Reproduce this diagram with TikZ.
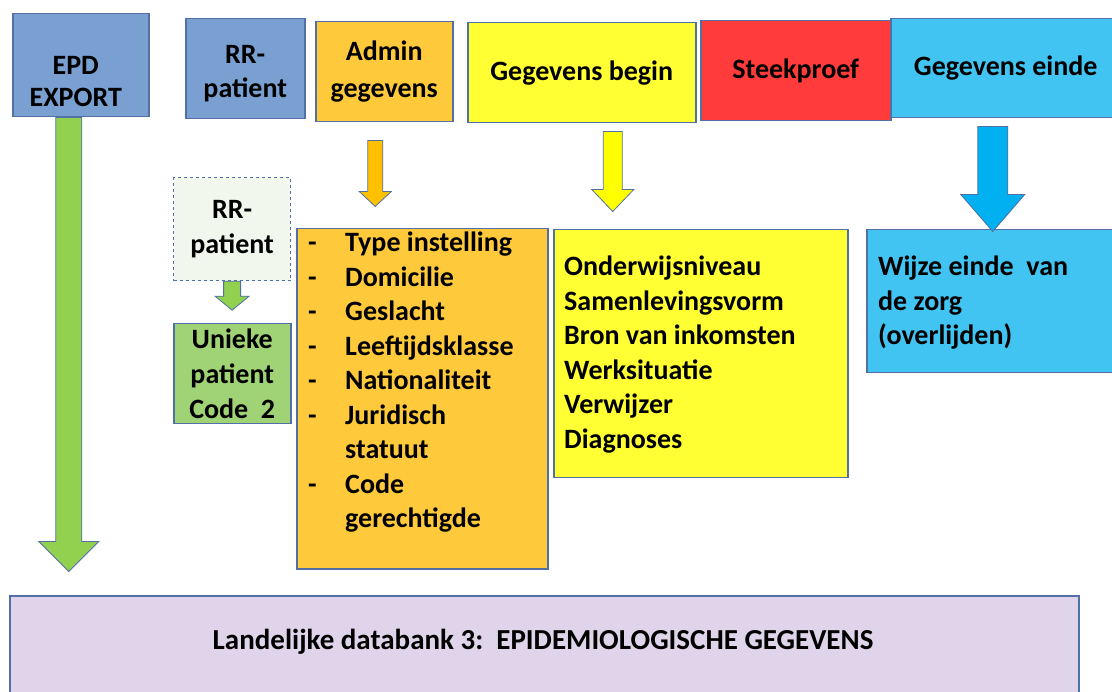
\documentclass[tikz,border=0pt]{standalone}
\usepackage{fontspec}
\setmainfont{Carlito}
\usetikzlibrary{calc}
\definecolor{edge}{RGB}{82,112,166}
\definecolor{epdblue}{RGB}{122,160,210}
\definecolor{admorange}{RGB}{255,201,60}
\definecolor{begyellow}{RGB}{255,255,51}
\definecolor{sampred}{RGB}{255,59,59}
\definecolor{endblue}{RGB}{66,196,242}
\definecolor{arrgreen}{RGB}{146,208,80}
\definecolor{arrorange}{RGB}{255,192,0}
\definecolor{arryellow}{RGB}{255,255,0}
\definecolor{arrblue}{RGB}{0,176,240}
\definecolor{codegreen}{RGB}{160,210,118}
\definecolor{paleggreen}{RGB}{242,247,238}
\definecolor{dbpurple}{RGB}{224,212,234}
% downward block arrow: style, start point, shaft length, head length, shaft half width, head half width
\newcommand{\blockdown}[6]{%
  \draw[#1] ($(#2)+(-#5,0)$) -- ++(2*#5,0) -- ++(0,#3) -- ++(#6-#5,0)
    -- ++(-#6,#4) -- ++(-#6,-#4) -- ++(#6-#5,0) -- cycle;}
\begin{document}
\begin{tikzpicture}[x=1pt,y=-1pt,
  box/.style={draw=edge, line width=1.5pt, inner sep=0pt, anchor=north west,
    font=\bfseries\fontsize{28}{37}\selectfont, align=center},
  lbl/.style={inner sep=0pt, font=\bfseries\fontsize{28}{35}\selectfont, align=center},
  listtext/.style={inner sep=0pt, anchor=north west,
    font=\bfseries\fontsize{28}{34.5}\selectfont, align=left},
  blk/.style={draw=edge, line width=0.8pt, line join=miter}]
\useasboundingbox (0,0) rectangle (1112,692);

% top row of source boxes
\node[box, fill=epdblue, minimum width=136, minimum height=103] (epd) at (12,13) {};
\node[lbl, font=\bfseries\fontsize{28}{32}\selectfont] (epdtext) at ($(epd.center)+(-5,16)$) {EPD\\EXPORT};
\node[box, fill=epdblue, minimum width=119, minimum height=100] (rr) at (185,18) {};
\node[lbl, font=\bfseries\fontsize{28}{34}\selectfont] (rrtext) at ($(rr.center)+(0,5)$) {RR-\\patient};
\node[box, fill=admorange, minimum width=137, minimum height=100] (admin) at (315,21) {Admin\\gegevens};
\node[box, fill=begyellow, minimum width=228, minimum height=100] (begin) at (467,22) {Gegevens begin};
\node[box, fill=sampred, minimum width=190, minimum height=100] (steek) at (700,20) {Steekproef};
\node[box, fill=endblue, minimum width=230, minimum height=99] (einde) at (890,18) {Gegevens einde};

% detail boxes
\node[box, fill=paleggreen, dashed, line width=1.2pt, minimum width=117, minimum height=103,
  font=\bfseries\fontsize{28}{35}\selectfont] (rr2) at (173,177) {RR-\\patient};
\node[box, fill=codegreen, minimum width=117, minimum height=100,
  font=\bfseries\fontsize{28}{35}\selectfont] (code) at (173,323) {Unieke\\patient\\Code~~2};
\node[box, fill=admorange, minimum width=251, minimum height=340] (adminlist) at (296,228) {};
\node[listtext] (admintext) at (308,232) {%
  \makebox[37pt][l]{-}Type instelling\\
  \makebox[37pt][l]{-}Domicilie\\
  \makebox[37pt][l]{-}Geslacht\\
  \makebox[37pt][l]{-}Leeftijdsklasse\\
  \makebox[37pt][l]{-}Nationaliteit\\
  \makebox[37pt][l]{-}Juridisch\\
  \makebox[37pt][l]{}statuut\\
  \makebox[37pt][l]{-}Code\\
  \makebox[37pt][l]{}gerechtigde};
\node[box, fill=begyellow, minimum width=294, minimum height=248] (beginlist) at (553,229) {};
\node[listtext] (begintext) at (564,256) {%
  Onderwijsniveau\\
  Samenlevingsvorm\\
  Bron van inkomsten\\
  Werksituatie\\
  Verwijzer\\
  Diagnoses};
\node[box, fill=endblue, minimum width=260, minimum height=143] (endlist) at (866,229) {};
\node[listtext] (endtext) at (878,256) {%
  Wijze einde~~van\\
  de zorg\\
  (overlijden)};

% target database
\node[box, fill=dbpurple, minimum width=1069, minimum height=110] (db) at (9,595) {};
\node[lbl, font=\bfseries\fontsize{29}{32}\selectfont] (dbtext) at (543,642)
  {Landelijke databank 3:~~EPIDEMIOLOGISCHE GEGEVENS};

% block arrows
\coordinate (g0) at ($(epd.south)+(-12,0)$);
\blockdown{blk, fill=arrgreen}{g0}{424}{30}{13}{30}
\coordinate (a0) at ($(admin.south)+(-9,18)$);
\blockdown{blk, fill=arrorange}{a0}{51}{15}{7.5}{16}
\coordinate (y0) at ($(begin.south)+(31,8)$);
\blockdown{blk, fill=arryellow}{y0}{58}{22}{9.5}{21}
\coordinate (b0) at ($(einde.south)+(-13,8)$);
\blockdown{blk, fill=arrblue}{b0}{68}{37}{15}{32}
\coordinate (s0) at (rr2.south);
\blockdown{blk, fill=arrgreen}{s0}{15}{14}{8.5}{17}
\end{tikzpicture}
\end{document}
